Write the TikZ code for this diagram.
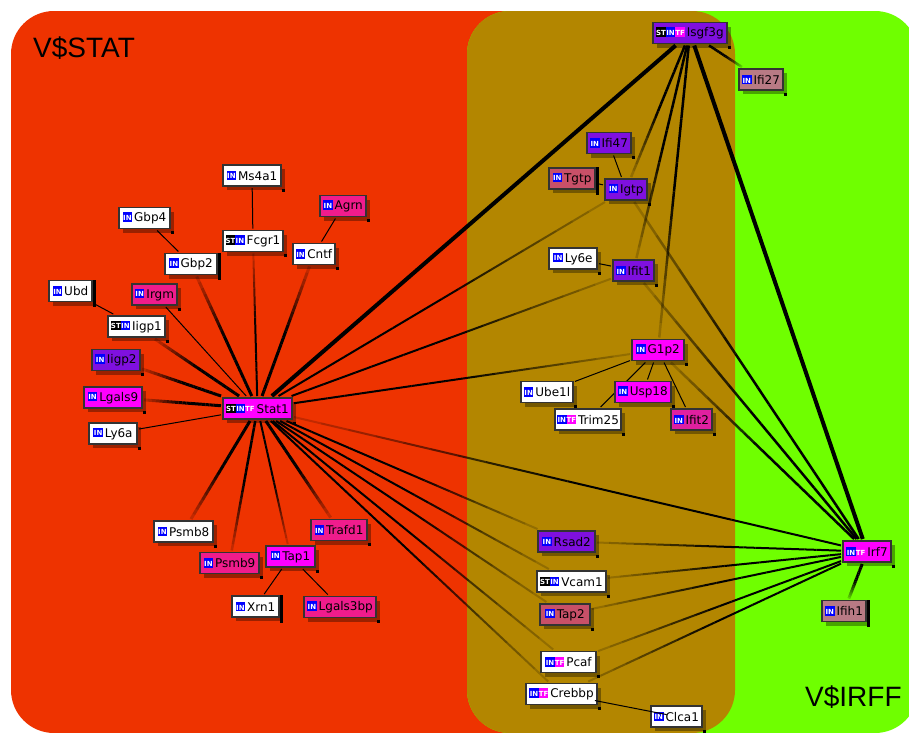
\documentclass[tikz,border=0pt]{standalone}
\usepackage{fontspec}
\setmainfont{DejaVu Sans}
\newfontfamily\regionfont{Liberation Sans}
\usetikzlibrary{calc,shadows}
\pgfdeclarelayer{edges}
\pgfsetlayers{edges,main}

\definecolor{regionred}{HTML}{EE3300}
\definecolor{regionolive}{HTML}{B38600}
\definecolor{regiongreen}{HTML}{6FFF00}
\definecolor{genemagenta}{HTML}{FF00FF}
\definecolor{genepurple}{HTML}{7F10DF}
\definecolor{genepink}{HTML}{F01C8C}
\definecolor{generose}{HTML}{C85068}
\definecolor{genedust}{HTML}{B87A84}
\definecolor{geneorchid}{HTML}{E020A0}
\definecolor{badgeblue}{HTML}{0000FF}

\tikzset{
    gene/.style={draw=black!80,line width=1.2pt,fill=white,minimum height=21,inner sep=0pt,outer sep=2pt,
        font=\fontsize{12}{12}\selectfont,text=black,
        drop shadow={shadow xshift=4pt,shadow yshift=-4pt,fill=black,opacity=.35}},
    thinlink/.style={line width=1pt,black},
    regionlabel/.style={font=\regionfont\fontsize{28}{28}\selectfont,anchor=west,inner sep=0pt}
}

% little tags in front of the gene names
\newcommand{\tagbox}[2]{{\setlength{\fboxsep}{0pt}\colorbox{#1}{\makebox[9.5pt]{\rule{0pt}{9.5pt}\raisebox{1.2pt}{\fontsize{7}{7}\selectfont\bfseries\color{white}#2}}}}}
\newcommand{\inTag}{\tagbox{badgeblue}{IN}}
\newcommand{\stTag}{\tagbox{black}{ST}}
\newcommand{\tfTag}{\tagbox{genemagenta}{TF}}

% line that fades out towards its second node
\newcommand{\fadelink}[3]{%
    \path (#1) -- (#2) coordinate[pos=0] (fadeS) coordinate[pos=1] (fadeE);
    \foreach \i in {0,...,19}{
        \pgfmathsetmacro{\t}{\i/20}
        \pgfmathsetmacro{\tnext}{(\i+1)/20}
        \pgfmathsetmacro{\op}{min(1,0.1+1.7*(1-\t))}
        \draw[line width=#3,opacity=\op,black] ($(fadeS)!\t!(fadeE)$) -- ($(fadeS)!\tnext!(fadeE)$);
    }
}

\begin{document}
\begin{tikzpicture}[x=1pt,y=-1pt]
    \useasboundingbox (0,0) rectangle (909,732);
    \clip (0,0) rectangle (909,732);

    % Stat side
    \node[gene,minimum width=58] (Ms4a1) at (252,175.5) {\inTag\,Ms4a1};
    \node[gene,minimum width=51] (Gbp4) at (144.5,218) {\inTag\,Gbp4};
    \node[gene,minimum width=60] (Fcgr1) at (253,241) {\stTag\inTag\,Fcgr1};
    \node[gene,minimum width=52] (Gbp2) at (191,264) {\inTag\,Gbp2};
    \node[gene,minimum width=42] (Cntf) at (314,254) {\inTag\,Cntf};
    \node[gene,minimum width=46,fill=genepink] (Agrn) at (343,206) {\inTag\,Agrn};
    \node[gene,minimum width=45,fill=genepink] (Irgm) at (154.5,294.5) {\inTag\,Irgm};
    \node[gene,minimum width=43] (Ubd) at (70.5,291) {\inTag\,Ubd};
    \node[gene,minimum width=57] (Iigp1) at (136.5,326.5) {\stTag\inTag\,Iigp1};
    \node[gene,minimum width=48,fill=genepurple] (Iigp2) at (116,360) {\inTag\,Iigp2};
    \node[gene,minimum width=58,fill=genemagenta] (Lgals9) at (113,397.5) {\inTag\,Lgals9};
    \node[gene,minimum width=48] (Ly6a) at (113,433.5) {\inTag\,Ly6a};
    \node[gene,minimum width=69,fill=genemagenta] (Stat1) at (257.5,408.5) {\stTag\inTag\tfTag\,Stat1};
    \node[gene,minimum width=59] (Psmb8) at (183.5,531.5) {\inTag\,Psmb8};
    \node[gene,minimum width=59,fill=genepink] (Psmb9) at (229.5,563) {\inTag\,Psmb9};
    \node[gene,minimum width=49,fill=genemagenta] (Tap1) at (290.5,556.5) {\inTag\,Tap1};
    \node[gene,minimum width=56,fill=genepink] (Trafd1) at (339,530) {\inTag\,Trafd1};
    \node[gene,minimum width=47] (Xrn1) at (255.5,606.5) {\inTag\,Xrn1};
    \node[gene,minimum width=72,fill=genepink] (Lgals3bp) at (340,607) {\inTag\,Lgals3bp};

    % Irf side
    \node[gene,minimum width=74,fill=genepurple] (Isgf3g) at (690,33) {\stTag\inTag\tfTag\,Isgf3g};
    \node[gene,minimum width=44,fill=genedust] (Ifi27) at (761,79.5) {\inTag\,Ifi27};
    \node[gene,minimum width=44,fill=genepurple] (Ifi47) at (609,143) {\inTag\,Ifi47};
    \node[gene,minimum width=46,fill=generose] (Tgtp) at (572,178.5) {\inTag\,Tgtp};
    \node[gene,minimum width=42,fill=genepurple] (Igtp) at (626,189.5) {\inTag\,Igtp};
    \node[gene,minimum width=48] (Ly6e) at (573,258.5) {\inTag\,Ly6e};
    \node[gene,minimum width=41,fill=genepurple] (Ifit1) at (633.5,270.5) {\inTag\,Ifit1};
    \node[gene,minimum width=52,fill=genemagenta] (G1p2) at (658,350) {\inTag\,G1p2};
    \node[gene,minimum width=52] (Ube1l) at (547,392) {\inTag\,Ube1l};
    \node[gene,minimum width=56,fill=genemagenta] (Usp18) at (643,392) {\inTag\,Usp18};
    \node[gene,minimum width=66] (Trim25) at (588,419.5) {\inTag\tfTag\,Trim25};
    \node[gene,minimum width=41,fill=geneorchid] (Ifit2) at (691.5,419.5) {\inTag\,Ifit2};
    \node[gene,minimum width=57,fill=genepurple] (Rsad2) at (566.5,541.5) {\inTag\,Rsad2};
    \node[gene,minimum width=69] (Vcam1) at (571.5,581.5) {\stTag\inTag\,Vcam1};
    \node[gene,minimum width=50,fill=generose] (Tap2) at (565,614.5) {\inTag\,Tap2};
    \node[gene,minimum width=55] (Pcaf) at (568.5,662) {\inTag\tfTag\,Pcaf};
    \node[gene,minimum width=71] (Crebbp) at (561.5,694) {\inTag\tfTag\,Crebbp};
    \node[gene,minimum width=51] (Clca1) at (676.5,716.5) {\inTag\,Clca1};
    \node[gene,minimum width=48,fill=genemagenta] (Irf7) at (867,551.5) {\inTag\tfTag\,Irf7};
    \node[gene,minimum width=44,fill=genedust] (Ifih1) at (844,611) {\inTag\,Ifih1};

    % corner marks
    \foreach \n in {Ms4a1,Gbp4,Fcgr1,Gbp2,Cntf,Agrn,Irgm,Ubd,Iigp1,Iigp2,Lgals9,Ly6a,Stat1,Psmb8,Psmb9,Tap1,Trafd1,Xrn1,Lgals3bp,Isgf3g,Ifi27,Ifi47,Tgtp,Igtp,Ly6e,Ifit1,G1p2,Ube1l,Usp18,Trim25,Ifit2,Rsad2,Vcam1,Tap2,Pcaf,Crebbp,Clca1,Irf7,Ifih1}
        \fill[black] ($(\n.south east)+(-1,0.5)$) rectangle +(3,3);

    % black bars
    \foreach \n in {Gbp2,Ubd,Tgtp,Xrn1,Ifih1}
        \fill[black] ($(\n.north east)+(-1,1)$) rectangle ($(\n.south east)+(2,3)$);

    \begin{pgfonlayer}{edges}
        % regions
        \fill[regionred,rounded corners=43] (11,11) rectangle (735,733);
        \fill[regiongreen,rounded corners=43] (467,11) rectangle (918,733);
        \fill[regionolive,rounded corners=43] (467,11) rectangle (735,733);

        % fading links
        \foreach \a/\b/\w in {Stat1/Fcgr1/2,Stat1/Gbp2/3,Stat1/Cntf/3,Stat1/Iigp1/3,Stat1/Iigp2/3,Stat1/Lgals9/3,
            Stat1/Psmb8/3,Stat1/Psmb9/2.5,Stat1/Tap1/2,Stat1/Trafd1/3,Stat1/Rsad2/2,Stat1/Vcam1/2,Stat1/Tap2/2,
            Stat1/Pcaf/2,Stat1/Crebbp/2,Stat1/G1p2/2,Stat1/Ifit1/2,Stat1/Igtp/2,Irf7/Stat1/2,
            Isgf3g/Ifi27/2.5,Isgf3g/Igtp/2.5,Isgf3g/Ifit1/2.5,Isgf3g/G1p2/2.5,
            Irf7/Igtp/2.5,Irf7/Ifit1/2.5,Irf7/G1p2/2.5,Irf7/Rsad2/2,Irf7/Vcam1/2,Irf7/Tap2/2,Irf7/Pcaf/2,Irf7/Crebbp/2,Irf7/Ifih1/3}
            \fadelink{\a}{\b}{\w};

        % solid links
        \draw[line width=4pt,black] (Stat1) -- (Isgf3g);
        \draw[line width=4pt,black] (Isgf3g) -- (Irf7);
        \foreach \a/\b in {Stat1/Irgm,Stat1/Ly6a,Fcgr1/Ms4a1,Gbp2/Gbp4,Iigp1/Ubd,Cntf/Agrn,Tap1/Xrn1,Tap1/Lgals3bp,
            Igtp/Ifi47,Igtp/Tgtp,Ifit1/Ly6e,G1p2/Ube1l,G1p2/Trim25,G1p2/Usp18,G1p2/Ifit2}
            \draw[thinlink] (\a) -- (\b);
    \end{pgfonlayer}

    \draw[thinlink,shorten <=34pt,shorten >=10pt] (Crebbp.center) -- (Clca1.center);

    \node[regionlabel] (statLabel) at (33,48) {V\$STAT};
    \node[regionlabel] (irffLabel) at (805,697) {V\$IRFF};
\end{tikzpicture}
\end{document}
